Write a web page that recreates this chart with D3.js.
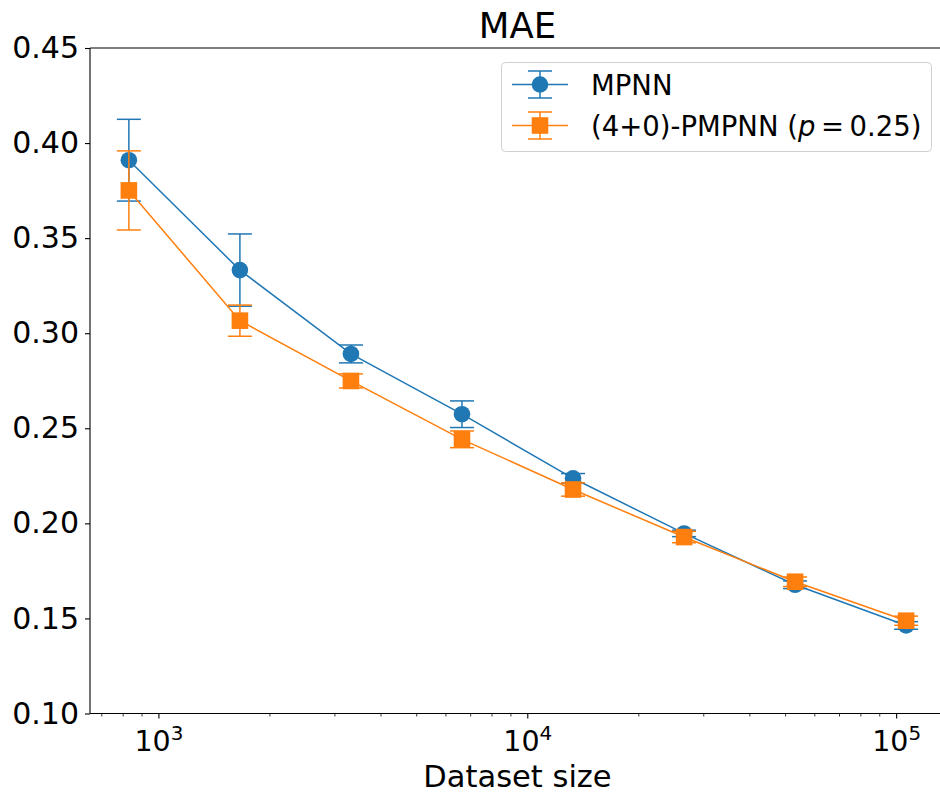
<!DOCTYPE html>
<html>
<head>
<meta charset="utf-8">
<script src="https://cdn.jsdelivr.net/npm/d3@7"></script>
<style>
  html, body { margin: 0; padding: 0; background: #fff; }
  svg { display: block; font-family: "DejaVu Sans", sans-serif; }
</style>
</head>
<body>
<svg id="chart" width="940" height="794"></svg>
<script>
// Dataset sizes (training molecules) on a log axis
const sizes = [829, 1658, 3316, 6632, 13264, 26528, 53056, 106112];

// MAE mean and standard deviation per model
const mpnnMean = [0.3910, 0.3332, 0.2891, 0.2574, 0.2237, 0.1947, 0.1677, 0.1463];
const mpnnStd  = [0.0215, 0.0190, 0.0047, 0.0070, 0.0025, 0.0017, 0.0020, 0.0020];
const pmpnnMean = [0.3751, 0.3066, 0.2749, 0.2442, 0.2178, 0.1928, 0.1693, 0.1488];
const pmpnnStd  = [0.0208, 0.0082, 0.0037, 0.0044, 0.0035, 0.0030, 0.0025, 0.0024];

const yTicks = [0.10, 0.15, 0.20, 0.25, 0.30, 0.35, 0.40, 0.45];
const xMajor = [1e3, 1e4, 1e5];

const colors = { mpnn: "#1f77b4", pmpnn: "#ff7f0e" };
const FS = 27.5;      // legend text
const TICK_FS = 30;   // tick labels and axis title

const svg = d3.select("#chart");
const plot = { left: 90, top: 48, right: 945, bottom: 713.5 };

// Log x-domain padded by 5% of the data span on each side
const lo = Math.log10(d3.min(sizes)), hi = Math.log10(d3.max(sizes));
const pad = (hi - lo) * 0.05;
const x = d3.scaleLog()
  .domain([Math.pow(10, lo - pad), Math.pow(10, hi + pad)])
  .range([plot.left, plot.right]);
const y = d3.scaleLinear().domain([0.10, 0.45]).range([plot.bottom, plot.top]);

// Axes frame
const frame = svg.append("g").attr("stroke", "#000").attr("stroke-width", 1.1);
frame.append("line").attr("x1", plot.left).attr("x2", plot.right).attr("y1", plot.top).attr("y2", plot.top);
frame.append("line").attr("x1", plot.left).attr("x2", plot.right).attr("y1", plot.bottom).attr("y2", plot.bottom);
frame.append("line").attr("x1", plot.left).attr("x2", plot.left).attr("y1", plot.top).attr("y2", plot.bottom);
frame.append("line").attr("x1", plot.right).attr("x2", plot.right).attr("y1", plot.top).attr("y2", plot.bottom);

// Y axis
const yAxis = d3.axisLeft(y).tickValues(yTicks).tickFormat(d3.format(".2f"))
  .tickSize(5).tickPadding(6);
const gy = svg.append("g").attr("transform", `translate(${plot.left},0)`).call(yAxis);
gy.select(".domain").remove();
gy.selectAll("text").attr("font-size", TICK_FS).attr("font-family", "DejaVu Sans").attr("fill", "#000");
gy.selectAll("line").attr("stroke", "#000").attr("stroke-width", 1.1);

// X axis: minor ticks
const [d0, d1] = x.domain();
const minor = [];
for (let e = 2; e <= 5; e++) {
  for (let m = 2; m <= 9; m++) {
    const v = m * Math.pow(10, e);
    if (v >= d0 && v <= d1) minor.push(v);
  }
}
const gx = svg.append("g").attr("transform", `translate(0,${plot.bottom})`);
gx.selectAll("line.minor").data(minor).join("line")
  .attr("class", "minor")
  .attr("x1", d => x(d)).attr("x2", d => x(d))
  .attr("y1", 0).attr("y2", 3)
  .attr("stroke", "#000").attr("stroke-width", 0.8);
gx.selectAll("line.major").data(xMajor).join("line")
  .attr("class", "major")
  .attr("x1", d => x(d)).attr("x2", d => x(d))
  .attr("y1", 0).attr("y2", 5)
  .attr("stroke", "#000").attr("stroke-width", 1.1);
const xl = gx.selectAll("text.major").data(xMajor).join("text")
  .attr("class", "major")
  .attr("x", d => x(d)).attr("y", 37)
  .attr("text-anchor", "middle")
  .attr("font-size", 28.5).attr("fill", "#000");
xl.append("tspan").text("10");
xl.append("tspan").attr("dy", -11).attr("font-size", 28.5 * 0.7)
  .text(d => String(Math.round(Math.log10(d))));

// Axis title and chart title
svg.append("text").attr("x", (plot.left + plot.right) / 2).attr("y", 787)
  .attr("text-anchor", "middle").attr("font-size", 30.5).attr("fill", "#000")
  .text("Dataset size");
svg.append("text").attr("x", (plot.left + plot.right) / 2).attr("y", 38)
  .attr("text-anchor", "middle").attr("font-size", 35.5).attr("fill", "#000")
  .text("MAE");

// Series drawing
const series = [
  { key: "mpnn", mean: mpnnMean, std: mpnnStd, marker: "circle" },
  { key: "pmpnn", mean: pmpnnMean, std: pmpnnStd, marker: "square" }
];
const capHalf = 12;
const line = d3.line().x(d => x(d[0])).y(d => y(d[1]));

series.forEach(s => {
  const col = colors[s.key];
  const pts = sizes.map((n, i) => [n, s.mean[i], s.std[i]]);
  const g = svg.append("g");
  g.append("path").datum(pts).attr("d", line)
    .attr("fill", "none").attr("stroke", col).attr("stroke-width", 1.5);
  // error bars
  const eb = g.selectAll("g.err").data(pts).join("g").attr("class", "err");
  eb.append("line")
    .attr("x1", d => x(d[0])).attr("x2", d => x(d[0]))
    .attr("y1", d => y(d[1] - d[2])).attr("y2", d => y(d[1] + d[2]))
    .attr("stroke", col).attr("stroke-width", 1.5);
  [-1, 1].forEach(sg => {
    eb.append("line")
      .attr("x1", d => x(d[0]) - capHalf).attr("x2", d => x(d[0]) + capHalf)
      .attr("y1", d => y(d[1] + sg * d[2])).attr("y2", d => y(d[1] + sg * d[2]))
      .attr("stroke", col).attr("stroke-width", 1.5);
  });
  // markers
  if (s.marker === "circle") {
    g.selectAll("circle").data(pts).join("circle")
      .attr("cx", d => x(d[0])).attr("cy", d => y(d[1])).attr("r", 8.3)
      .attr("fill", col);
  } else {
    g.selectAll("rect").data(pts).join("rect")
      .attr("x", d => x(d[0]) - 8.3).attr("y", d => y(d[1]) - 8.3)
      .attr("width", 16.6).attr("height", 16.6)
      .attr("fill", col);
  }
});

// Legend
const lg = svg.append("g");
lg.append("rect").attr("x", 501.5).attr("y", 62.5).attr("width", 430).attr("height", 89)
  .attr("rx", 4).attr("fill", "#fff").attr("fill-opacity", 0.8)
  .attr("stroke", "#d0d0d0").attr("stroke-width", 1);
const entries = [
  { key: "mpnn", marker: "circle", cy: 84.5 },
  { key: "pmpnn", marker: "square", cy: 125.5 }
];
entries.forEach(e => {
  const col = colors[e.key];
  const cx = 540;
  lg.append("line").attr("x1", 512).attr("x2", 568).attr("y1", e.cy).attr("y2", e.cy)
    .attr("stroke", col).attr("stroke-width", 1.5);
  lg.append("line").attr("x1", cx).attr("x2", cx).attr("y1", e.cy - 13.5).attr("y2", e.cy + 13.5)
    .attr("stroke", col).attr("stroke-width", 1.5);
  [-13.5, 13.5].forEach(dy => lg.append("line")
    .attr("x1", cx - capHalf).attr("x2", cx + capHalf).attr("y1", e.cy + dy).attr("y2", e.cy + dy)
    .attr("stroke", col).attr("stroke-width", 1.5));
  if (e.marker === "circle") {
    lg.append("circle").attr("cx", cx).attr("cy", e.cy).attr("r", 8.3).attr("fill", col);
  } else {
    lg.append("rect").attr("x", cx - 8.3).attr("y", e.cy - 8.3).attr("width", 16.6).attr("height", 16.6).attr("fill", col);
  }
});
lg.append("text").attr("x", 591).attr("y", entries[0].cy + 10).attr("font-size", FS).attr("fill", "#000")
  .text("MPNN");
const t2 = lg.append("text").attr("x", 591).attr("y", entries[1].cy + 10).attr("font-size", FS).attr("fill", "#000");
t2.append("tspan").text("(4+0)-PMPNN (");
t2.append("tspan").attr("font-style", "italic").text("p");
t2.append("tspan").text("\u2009=\u20090.25)");
</script>
</body>
</html>
